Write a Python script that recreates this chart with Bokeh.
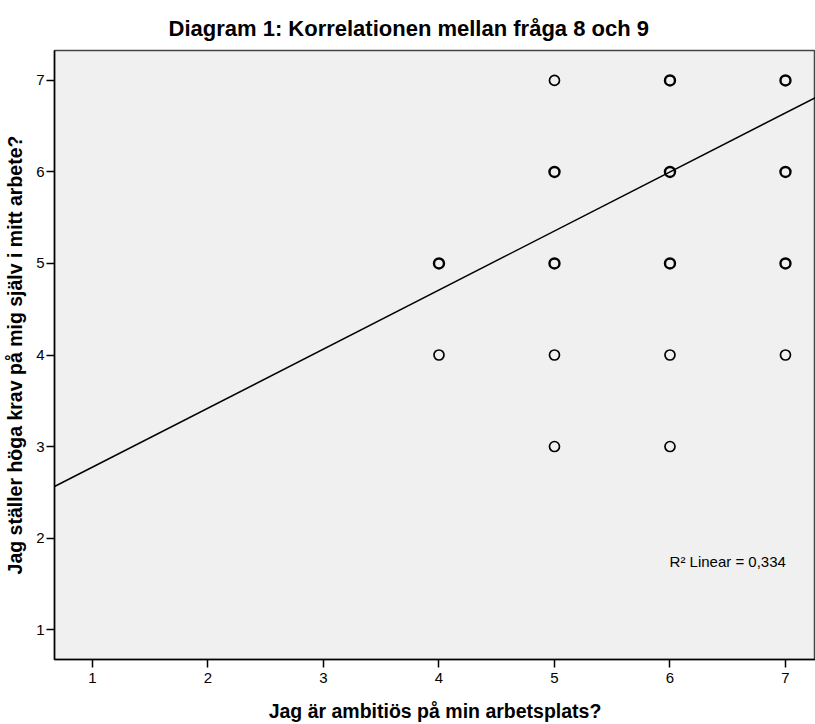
from bokeh.plotting import figure
from bokeh.models import ColumnDataSource, Label, FixedTicker, Range1d
from bokeh.embed import file_html
from bokeh.resources import INLINE

# Data
x_vals = [4, 4, 5, 5, 5, 5, 5, 6, 6, 6, 6, 6, 7, 7, 7, 7]
y_vals = [5, 4, 7, 6, 5, 4, 3, 7, 6, 5, 4, 3, 7, 6, 5, 4]
overlap = [2, 1, 1, 2, 2, 1, 1, 2, 2, 2, 1, 1, 2, 2, 2, 1]  # heavier rings = multiple cases
fit_intercept = 2.13
fit_slope = 0.645
r2_text = "R\u00b2 Linear = 0,334"
ticks = [1, 2, 3, 4, 5, 6, 7]

FONT = "Liberation Sans"

x0, x1 = 0.671, 7.26
y0, y1 = 0.673, 7.327

p = figure(width=815, height=724, output_backend="svg", toolbar_location=None,
           x_range=Range1d(x0, x1), y_range=Range1d(y0, y1),
           min_border_left=54, min_border_right=0, min_border_top=50, min_border_bottom=64)

p.title.text = "Diagram 1: Korrelationen mellan fr\u00e5ga 8 och 9"
p.title.align = "left"
p.title.offset = 114
p.title.text_font = FONT
p.title.text_font_size = "22px"
p.title.text_font_style = "bold"
p.title.text_color = "black"
p.title.standoff = 19

p.background_fill_color = "#F0F0F0"
p.border_fill_color = "white"
p.outline_line_color = "#444444"
p.outline_line_width = 1.5
p.xgrid.visible = False
p.ygrid.visible = False

for ax in (p.xaxis[0], p.yaxis[0]):
    ax.ticker = FixedTicker(ticks=ticks)
    ax.minor_tick_line_color = None
    ax.major_tick_in = 0
    ax.major_tick_out = 8
    ax.major_tick_line_color = "black"
    ax.major_tick_line_width = 1.5
    ax.axis_line_color = "black"
    ax.axis_line_width = 1.5
    ax.major_label_text_font = FONT
    ax.major_label_text_font_size = "15px"
    ax.major_label_text_color = "black"
    ax.axis_label_text_font = FONT
    ax.axis_label_text_font_size = "19.5px"
    ax.axis_label_text_font_style = "bold"
    ax.axis_label_text_color = "black"

p.xaxis.axis_label = "Jag \u00e4r ambiti\u00f6s p\u00e5 min arbetsplats?"
p.yaxis.axis_label = "Jag st\u00e4ller h\u00f6ga krav p\u00e5 mig sj\u00e4lv i mitt arbete?"
p.xaxis.major_label_standoff = 5
p.xaxis.axis_label_standoff = 14
p.yaxis.major_label_standoff = 2
p.yaxis.axis_label_standoff = 7

src = ColumnDataSource(dict(x=x_vals, y=y_vals,
                            lw=[1.7 + 0.7 * (n - 1) for n in overlap]))
p.scatter("x", "y", source=src, marker="circle", size=10, fill_color=None,
          line_color="black", line_width="lw")

fx = [x0, x1]
fy = [fit_intercept + fit_slope * v for v in fx]
p.line(fx, fy, line_color="black", line_width=1.5)

p.add_layout(Label(x=6.5, y=1.74, text=r2_text, text_font=FONT, text_font_size="15px",
                   text_align="center", text_baseline="middle", text_color="black"))

open("out.html", "w").write(file_html(p, INLINE))
